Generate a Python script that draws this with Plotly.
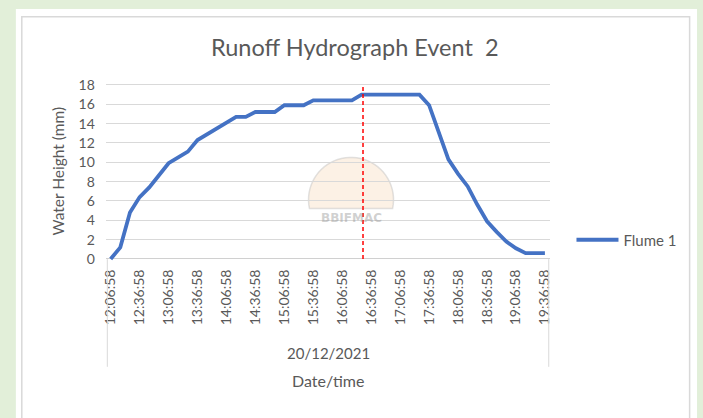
import numpy as np
import pandas as pd
import plotly.graph_objects as go

# ---- data ----
times = [t.strftime("%H:%M:%S") for t in pd.date_range("2021-12-20 12:06:58", periods=46, freq="10min")]
flume1 = [0.0, 1.2, 4.8, 6.4, 7.4, 8.6, 9.9, 10.5, 11.1, 12.3,
          12.9, 13.5, 14.1, 14.7, 14.7, 15.2, 15.2, 15.2, 15.9, 15.9,
          15.9, 16.4, 16.4, 16.4, 16.4, 16.4, 17.0, 17.0, 17.0, 17.0,
          17.0, 17.0, 17.0, 15.9, 13.0, 10.3, 8.8, 7.5, 5.6, 3.9,
          2.8, 1.8, 1.1, 0.6, 0.6, 0.6]
tick_labels = times[::3]
y_ticks = list(range(0, 19, 2))
peak_time = "16:26:58"
date_label = "20/12/2021"
series_name = "Flume 1"

W, H = 703, 418
def px(x):
    return x / W
def py(y):
    return 1 - y / H

GREY = "#595959"
FONT = "Lato"

fig = go.Figure()
fig.add_trace(go.Scatter(
    x=times, y=flume1, mode="lines", name=series_name,
    line=dict(color="#4472C4", width=3.8),
))

peak_idx = times.index(peak_time)

shapes = [
    # white panel
    dict(type="rect", xref="paper", yref="paper", x0=px(11), x1=px(700), y0=py(5), y1=py(430),
         fillcolor="white", line=dict(width=0), layer="below"),
    # chart border
    dict(type="rect", xref="paper", yref="paper", x0=px(17), x1=px(692.5), y0=py(13), y1=py(425),
         fillcolor="rgba(0,0,0,0)", line=dict(color="#d9d9d9", width=1.5), layer="below"),
    # category group separators
    dict(type="line", xref="paper", yref="paper", x0=px(103.5), x1=px(103.5), y0=py(259.5), y1=py(369),
         line=dict(color="#d9d9d9", width=1)),
    dict(type="line", xref="paper", yref="paper", x0=px(550), x1=px(550), y0=py(259.5), y1=py(369),
         line=dict(color="#d9d9d9", width=1)),
    # peak marker
    dict(type="line", xref="x", yref="y", x0=peak_idx + 0.15, x1=peak_idx + 0.15, y0=0, y1=18,
         line=dict(color="#ff0000", width=1.5, dash="4px,3px")),
]

# faint watermark logo (dome)
ang = np.linspace(np.deg2rad(-12), np.deg2rad(192), 40)
cx, cy, r = 350, 199, 43
pts = [(cx + r * np.cos(a), cy - r * np.sin(a)) for a in ang]
path = "M " + " L ".join(f"{px(x):.5f},{py(y):.5f}" for x, y in pts) + " Z"
shapes.append(dict(type="path", xref="paper", yref="paper", path=path,
                   fillcolor="rgba(245,205,160,0.28)", line=dict(color="rgba(190,190,190,0.45)", width=1.5),
                   layer="below"))

annotations = [
    dict(text="Runoff Hydrograph Event  2", x=px(354), y=py(44), xref="paper", yref="paper",
         showarrow=False, font=dict(family=FONT, size=23.5, color=GREY), xanchor="center", yanchor="middle"),
    dict(text="Water Height (mm)", x=px(54), y=py(170), xref="paper", yref="paper", textangle=-90,
         showarrow=False, font=dict(family=FONT, size=15.5, color=GREY), xanchor="center", yanchor="middle"),
    dict(text=date_label, x=px(327), y=py(355), xref="paper", yref="paper",
         showarrow=False, font=dict(family=FONT, size=15, color=GREY), xanchor="center", yanchor="middle"),
    dict(text="Date/time", x=px(327), y=py(383), xref="paper", yref="paper",
         showarrow=False, font=dict(family=FONT, size=16, color=GREY), xanchor="center", yanchor="middle"),
    dict(text="<b>BBIFMAC</b>", x=px(350), y=py(218), xref="paper", yref="paper",
         showarrow=False, font=dict(family="DejaVu Sans", size=12, color="rgba(150,150,150,0.45)"),
         xanchor="center", yanchor="middle"),
]

fig.update_layout(
    width=W, height=H,
    margin=dict(l=0, r=0, t=0, b=0),
    paper_bgcolor="#e2efd9",
    plot_bgcolor="rgba(0,0,0,0)",
    font=dict(family=FONT, color=GREY),
    shapes=shapes,
    annotations=annotations,
    showlegend=True,
    legend=dict(x=px(573), y=py(240), xanchor="left", yanchor="middle", itemwidth=42,
                font=dict(family=FONT, size=15, color=GREY), bgcolor="rgba(0,0,0,0)"),
    xaxis=dict(domain=[px(102), px(551)], type="category", range=[-0.5, len(times) - 0.5],
               tickmode="array", tickvals=tick_labels, ticktext=tick_labels, tickangle=-90,
               tickfont=dict(family=FONT, size=14, color=GREY), showgrid=False, ticks="",
               showline=False, zeroline=False, ticklabelstandoff=2),
    yaxis=dict(domain=[py(264.2), py(77.4)], range=[-0.5, 18.5], tickvals=y_ticks,
               tickfont=dict(family=FONT, size=14, color=GREY), showgrid=True, gridcolor="#d9d9d9",
               gridwidth=1, zeroline=True, zerolinecolor="#d0d0d0", zerolinewidth=1.2,
               showline=False, ticks="", ticklabelstandoff=10),
)

fig.write_html("out.html", config={"displayModeBar": False},
               post_script="document.body.style.margin='0';document.body.style.background='#e2efd9';")
